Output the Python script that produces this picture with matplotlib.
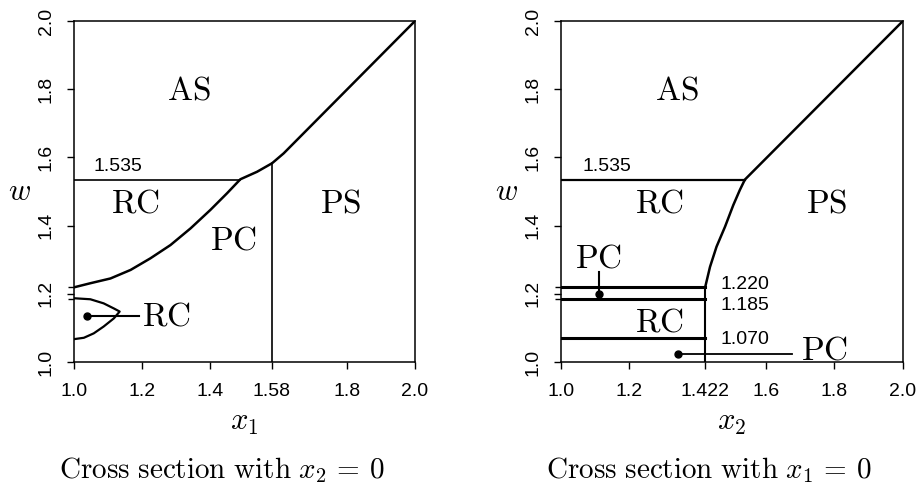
import matplotlib.pyplot as plt

plt.rcParams['mathtext.fontset'] = 'cm'

# left panel: cross section with x2 = 0
bnd1_x = [1.0, 1.048, 1.107, 1.166, 1.224, 1.283, 1.342, 1.400, 1.449, 1.488,
          1.537, 1.581, 1.615, 2.0]
bnd1_w = [1.219, 1.231, 1.245, 1.270, 1.304, 1.343, 1.392, 1.446, 1.495, 1.536,
          1.558, 1.583, 1.612, 2.0]
lobe_x = [1.0, 1.048, 1.087, 1.117, 1.134, 1.117, 1.087, 1.058, 1.029, 1.0]
lobe_w = [1.187, 1.184, 1.172, 1.157, 1.148, 1.128, 1.104, 1.084, 1.071, 1.067]
pc1_edge = 1.58
pc1_top = 1.583
xt1 = [1.0, 1.2, 1.4, 1.58, 1.8, 2.0]
xt1_lab = ["1.0", "1.2", "1.4", "1.58", "1.8", "2.0"]

# right panel: cross section with x1 = 0
bnd2_x = [1.422, 1.436, 1.455, 1.480, 1.504, 1.523, 1.538, 2.0]
bnd2_w = [1.22, 1.279, 1.338, 1.397, 1.460, 1.504, 1.535, 2.0]
levels2 = [1.22, 1.185, 1.07]
lev_lab = ["1.220", "1.185", "1.070"]
lev_lab_w = [1.228, 1.167, 1.066]
edge2 = 1.422
xt2 = [1.0, 1.2, 1.422, 1.6, 1.8, 2.0]
xt2_lab = ["1.0", "1.2", "1.422", "1.6", "1.8", "2.0"]

yt = [1.0, 1.2, 1.4, 1.6, 1.8, 2.0]
yt_lab = ["1.0", "1.2", "1.4", "1.6", "1.8", "2.0"]
w_ac = 1.535

tickfont = dict(family='Liberation Sans', size=14)
regfont = 24

fig = plt.figure(figsize=(9.19, 4.87), dpi=100)
ax1 = fig.add_axes([0.0805, 0.2567, 0.371, 0.700])
ax2 = fig.add_axes([0.6104, 0.2567, 0.372, 0.700])


def setup(ax, xt, xlab, xname):
    ax.set_xlim(1.0, 2.0)
    ax.set_ylim(1.0, 2.0)
    ax.set_xticks(xt)
    ax.set_xticklabels(xlab, **tickfont)
    ax.set_yticks(yt)
    ax.set_yticklabels(yt_lab, rotation=90, va='center', **tickfont)
    ax.set_yticks([1.185, 1.22], minor=True)
    ax.tick_params(which='both', direction='out', length=5, width=1)
    ax.tick_params(axis='x', pad=10)
    ax.tick_params(axis='y', pad=9)
    ax.tick_params(which='minor', length=4)
    for s in ax.spines.values():
        s.set_linewidth(1.1)
    ax.set_xlabel(xname, fontsize=22, labelpad=6)
    ax.set_ylabel(r'$w$', fontsize=22, rotation=0, labelpad=13, va='center')


setup(ax1, xt1, xt1_lab, r'$x_1$')
setup(ax2, xt2, xt2_lab, r'$x_2$')

# left panel drawing
ax1.plot(bnd1_x, bnd1_w, 'k-', lw=1.8)
ax1.plot(lobe_x, lobe_w, 'k-', lw=1.6)
ax1.plot([1.0, 1.488], [w_ac, w_ac], 'k-', lw=1.2)
ax1.plot([pc1_edge, pc1_edge], [1.0, pc1_top], 'k-', lw=1.2)
ax1.plot([1.039, 1.19], [1.136, 1.136], 'k-', lw=1.5)
ax1.plot([1.039], [1.136], 'ko', ms=5)
ax1.text(1.13, 1.573, "1.535", ha='center', va='center', **tickfont)
ax1.text(1.337, 1.798, r'$\mathrm{AS}$', fontsize=regfont, ha='center', va='center')
ax1.text(1.181, 1.465, r'$\mathrm{RC}$', fontsize=regfont, ha='center', va='center')
ax1.text(1.468, 1.358, r'$\mathrm{PC}$', fontsize=regfont, ha='center', va='center')
ax1.text(1.781, 1.465, r'$\mathrm{PS}$', fontsize=regfont, ha='center', va='center')
ax1.text(1.27, 1.136, r'$\mathrm{RC}$', fontsize=regfont, ha='center', va='center')

# right panel drawing
ax2.plot(bnd2_x, bnd2_w, 'k-', lw=1.8)
ax2.plot([1.0, 1.538], [w_ac, w_ac], 'k-', lw=1.6)
for lv in levels2:
    ax2.plot([1.0, edge2], [lv, lv], 'k-', lw=2.2)
ax2.plot([edge2, edge2], [1.0, levels2[0]], 'k-', lw=1.5)
for lab, lw_ in zip(lev_lab, lev_lab_w):
    ax2.text(1.538, lw_, lab, ha='center', va='center', **tickfont)
ax2.text(1.134, 1.573, "1.535", ha='center', va='center', **tickfont)
ax2.plot([1.11, 1.11], [1.265, 1.20], 'k-', lw=1.5)
ax2.plot([1.11], [1.20], 'ko', ms=5)
ax2.plot([1.343, 1.675], [1.022, 1.022], 'k-', lw=1.3)
ax2.plot([1.343], [1.022], 'ko', ms=5)
ax2.text(1.338, 1.798, r'$\mathrm{AS}$', fontsize=regfont, ha='center', va='center')
ax2.text(1.289, 1.465, r'$\mathrm{RC}$', fontsize=regfont, ha='center', va='center')
ax2.text(1.777, 1.465, r'$\mathrm{PS}$', fontsize=regfont, ha='center', va='center')
ax2.text(1.289, 1.118, r'$\mathrm{RC}$', fontsize=regfont, ha='center', va='center')
ax2.text(1.109, 1.304, r'$\mathrm{PC}$', fontsize=regfont, ha='center', va='center')
ax2.text(1.772, 1.035, r'$\mathrm{PC}$', fontsize=regfont, ha='center', va='center')

fig.text(222 / 919, 0.035, r'$\mathrm{Cross\ section\ with\ }x_2\,=\,0$',
         fontsize=21, ha='center', va='center')
fig.text(709 / 919, 0.035, r'$\mathrm{Cross\ section\ with\ }x_1\,=\,0$',
         fontsize=21, ha='center', va='center')

fig.savefig('out.png', dpi=100)
